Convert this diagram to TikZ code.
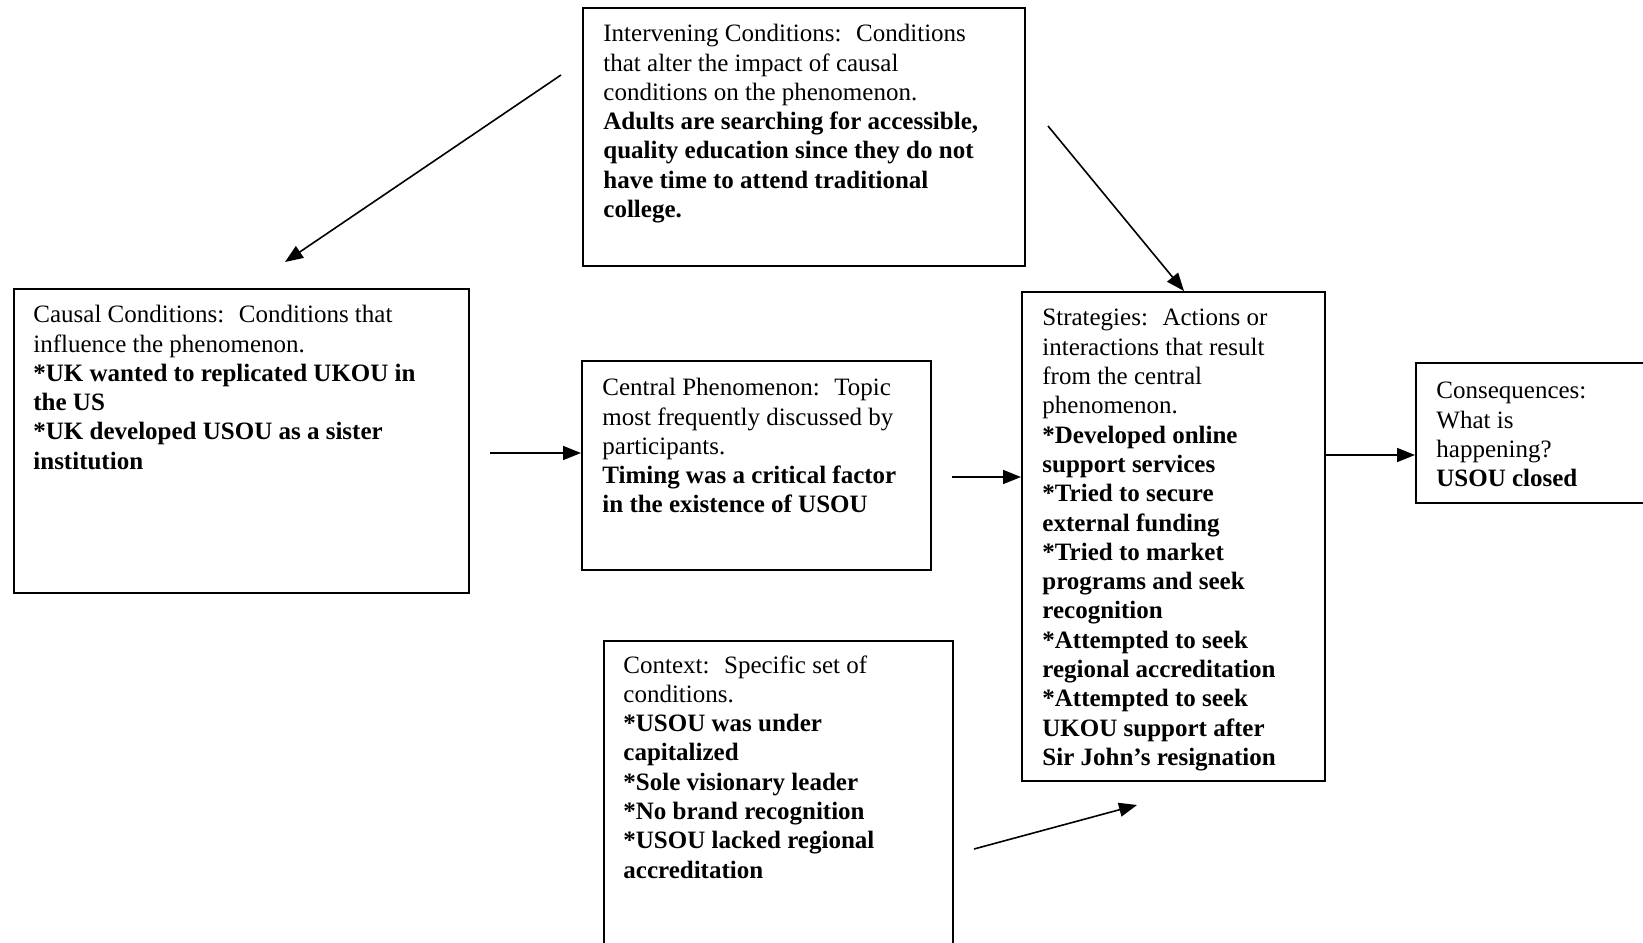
\documentclass[tikz,border=0pt]{standalone}
\usepackage{fontspec}
\setmainfont{Liberation Serif}
\usetikzlibrary{arrows.meta}
\begin{document}
\begin{tikzpicture}[x=0.5pt,y=-0.5pt,
  box/.style={draw=black,line width=1pt,rectangle,inner sep=0pt,anchor=north west},
  txt/.style={anchor=north west,inner sep=0pt,align=left,font=\fontsize{12.5pt}{14.65pt}\selectfont},
  arr/.style={draw=black,line width=0.8pt,-{Triangle[length=9pt,width=7pt]}}]
\clip (0,0) rectangle (1643,942);
\fill[white] (0,0) rectangle (1643,942);
% boxes
\node[box,minimum width=221pt,minimum height=129pt] (inter) at (582,7) {};
\node[box,minimum width=227.5pt,minimum height=152pt] (causal) at (13,288) {};
\node[box,minimum width=174.5pt,minimum height=104.5pt] (central) at (581,360) {};
\node[box,minimum width=151.5pt,minimum height=244.5pt] (strat) at (1021,291) {};
\node[box,minimum width=130pt,minimum height=70pt] (cons) at (1415,362) {};
\node[box,minimum width=174.5pt,minimum height=160pt] (context) at (603,640) {};
% texts
\node[txt] (intert) at (603,24) {Intervening Conditions:~ Conditions\\that alter the impact of causal\\conditions on the phenomenon.\\\textbf{Adults are searching for accessible,}\\\textbf{quality education since they do not}\\\textbf{have time to attend traditional}\\\textbf{college.}};
\node[txt] (causalt) at (33,305) {Causal Conditions:~ Conditions that\\influence the phenomenon.\\\textbf{*UK wanted to replicated UKOU in}\\\textbf{the US}\\\textbf{*UK developed USOU as a sister}\\\textbf{institution}};
\node[txt] (centralt) at (602,378) {Central Phenomenon:~ Topic\\most frequently discussed by\\participants.\\\textbf{Timing was a critical factor}\\\textbf{in the existence of USOU}};
\node[txt] (stratt) at (1042,309) {Strategies:~ Actions or\\interactions that result\\from the central\\phenomenon.\\\textbf{*Developed online}\\\textbf{support services}\\\textbf{*Tried to secure}\\\textbf{external funding}\\\textbf{*Tried to market}\\\textbf{programs and seek}\\\textbf{recognition}\\\textbf{*Attempted to seek}\\\textbf{regional accreditation}\\\textbf{*Attempted to seek}\\\textbf{UKOU support after}\\\textbf{Sir John’s resignation}};
\node[txt] (const) at (1436,382) {Consequences:\\What is\\happening?\\\textbf{USOU closed}};
\node[txt] (contextt) at (623,655) {Context:~ Specific set of\\conditions.\\\textbf{*USOU was under}\\\textbf{capitalized}\\\textbf{*Sole visionary leader}\\\textbf{*No brand recognition}\\\textbf{*USOU lacked regional}\\\textbf{accreditation}};
% connector ends
\coordinate (a1) at (490,453);
\coordinate (a2) at (952,477);
\coordinate (a3) at (1324,455);
\coordinate (a4s) at (561,75);
\coordinate (a4e) at (285,262);
\coordinate (a5s) at (1048,126);
\coordinate (a5e) at (1184,291);
\coordinate (a6s) at (974,849);
\coordinate (a6e) at (1137,805);
% connectors
\draw[arr] (a1) -- (a1 -| central.west);
\draw[arr] (a2) -- (a2 -| strat.west);
\draw[arr] (a3 -| strat.east) -- (a3 -| cons.west);
\draw[arr] (a4s) -- (a4e);
\draw[arr] (a5s) -- (a5e |- strat.north);
\draw[arr] (a6s) -- (a6e);
\end{tikzpicture}
\end{document}
